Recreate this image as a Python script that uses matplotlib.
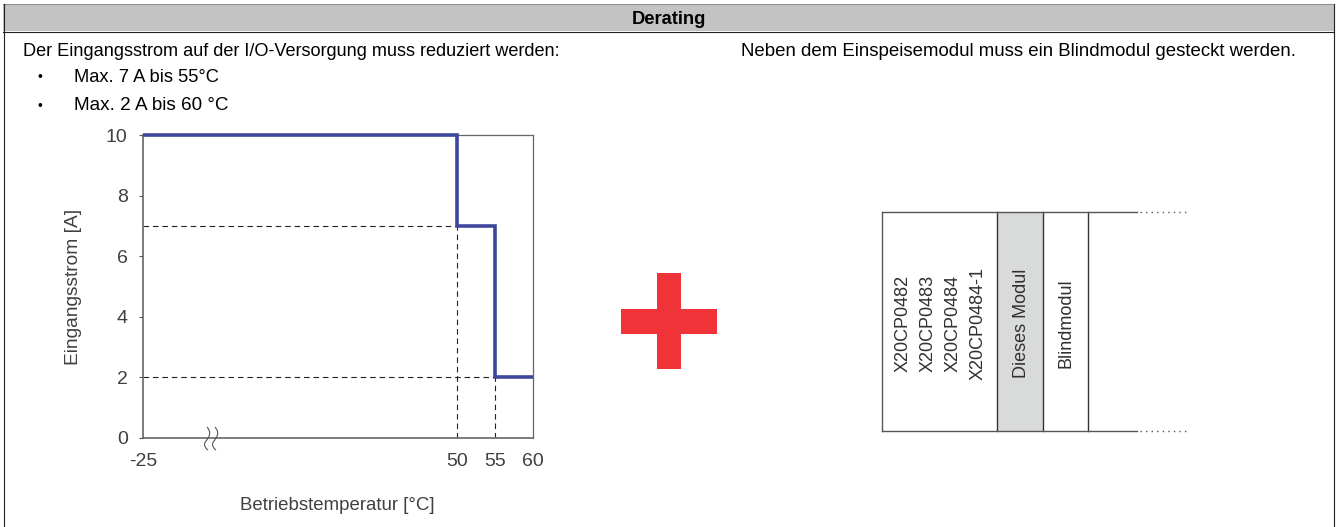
import numpy as np
import matplotlib
matplotlib.use("Agg")
import matplotlib.pyplot as plt
from matplotlib.patches import Rectangle, PathPatch
from matplotlib.path import Path

plt.rcParams["font.family"] = ["Liberation Sans", "DejaVu Sans"]

W, H = 1336, 527

# derating curve
temp_steps = [-25, 50, 50, 55, 55, 60]
current_steps = [10, 10, 7, 7, 2, 2]
temp_ticks = [-25, 50, 55, 60]
current_ticks = [0, 2, 4, 6, 8, 10]
guide_temps = [50, 55]
guide_currents = [7, 2]

title = "Derating"
left_text = "Der Eingangsstrom auf der I/O-Versorgung muss reduziert werden:"
right_text = "Neben dem Einspeisemodul muss ein Blindmodul gesteckt werden."
bullets = ["Max. 7 A bis 55°C", "Max. 2 A bis 60 °C"]
module_names = ["X20CP0482", "X20CP0483", "X20CP0484", "X20CP0484-1"]

fig = plt.figure(figsize=(W / 100, H / 100), dpi=100)

# overlay in pixel coordinates for the table and the drawings
bg = fig.add_axes([0, 0, 1, 1])
bg.set_xlim(0, W)
bg.set_ylim(H, 0)
bg.axis("off")

bg.add_patch(Rectangle((3, 4), 1331, 27, fc="#c3c3c3", ec="none"))
bg.plot([3, 1334], [4, 4], color="#909090", lw=0.8)
bg.plot([3, 1334], [31.5, 31.5], color="#202020", lw=0.8)
bg.plot([3.5, 3.5], [4, H], color="#202020", lw=0.8)
bg.plot([1334, 1334], [4, H], color="#202020", lw=0.8)

bg.text(668.5, 19.5, title, ha="center", va="center", fontsize=13.2, fontweight="bold", color="black")
bg.text(23, 51, left_text, va="center", fontsize=13.1, color="black")
bg.text(741, 51, right_text, va="center", fontsize=13.45, color="black")
for y, label, size in zip([77, 106], bullets, [13.2, 13.6]):
    bg.text(40, y, "•", ha="center", va="center", fontsize=10, color="black")
    bg.text(74, y, label, va="center", fontsize=size, color="black")

# red plus
bg.add_patch(Rectangle((657, 273), 24, 96, fc="#ef3338", ec="none"))
bg.add_patch(Rectangle((621, 309), 96, 25, fc="#ef3338", ec="none"))

# module drawing
bg.add_patch(Rectangle((997, 212), 46, 219, fc="#d9dada", ec="none"))
bg.plot([882, 882], [212, 431], color="#555555", lw=1)
for x in [997, 1043, 1088]:
    bg.plot([x, x], [212, 431], color="#333333", lw=1)
for y in [212, 431]:
    bg.plot([882, 1137], [y, y], color="#555555", lw=1)
    bg.plot([1140, 1188], [y, y], color="#555555", lw=1, ls=(0, (1, 3)))
for x, name in zip([903.5, 928.5, 953.5, 978.5], module_names):
    bg.text(x, 323, name, rotation=90, ha="center", va="center", fontsize=13, color="#303030")
bg.text(1022, 323, "Dieses Modul", rotation=90, ha="center", va="center", fontsize=13, color="#303030")
bg.text(1066, 323, "Blindmodul", rotation=90, ha="center", va="center", fontsize=13, color="#303030")

# chart
x0, x1, y_top, y_bot = 143, 533, 135, 438
ax = fig.add_axes([x0 / W, 1 - y_bot / H, (x1 - x0) / W, (y_bot - y_top) / H])
ax.patch.set_alpha(0)


def fwd(v):
    return np.interp(v, [-25, 50, 60], [0, 314, 390], left=None, right=None)


def inv(v):
    return np.interp(v, [0, 314, 390], [-25, 50, 60])


ax.set_xscale("function", functions=(fwd, inv))
ax.set_xlim(-25, 60)
ax.set_ylim(0, 10)

for t, c in zip(guide_temps, guide_currents):
    ax.plot([-25, t], [c, c], color="#222222", lw=0.8, ls=(0, (5, 3.5)), zorder=2)
    ax.plot([t, t], [0, c], color="#222222", lw=0.8, ls=(0, (5, 3.5)), zorder=2)

ax.plot(temp_steps, current_steps, color="#3f479c", lw=2.6, solid_joinstyle="miter",
        solid_capstyle="butt", clip_on=False, zorder=3)

ax.set_xticks(temp_ticks)
ax.set_xticklabels([str(t) for t in temp_ticks])
ax.set_yticks(current_ticks)
ax.xaxis.set_minor_locator(matplotlib.ticker.NullLocator())
ax.tick_params(axis="y", length=3, width=0.8, color="#555555", labelsize=14, labelcolor="#404040", pad=8)
ax.tick_params(axis="x", length=0, labelsize=14, labelcolor="#404040", pad=10.5)

for side in ["left", "bottom"]:
    ax.spines[side].set_color("#666666")
    ax.spines[side].set_linewidth(1.2)
for side in ["top", "right"]:
    ax.spines[side].set_color("#666666")
    ax.spines[side].set_linewidth(0.9)

bg.text(337, 505, "Betriebstemperatur [°C]", ha="center", va="center", fontsize=13.4, color="#404040")
bg.text(74, 287, "Eingangsstrom [A]", rotation=90, ha="center", va="center", fontsize=13.8, color="#404040")

# axis break mark
top = fig.add_axes([0, 0, 1, 1])
top.set_xlim(0, W)
top.set_ylim(H, 0)
top.axis("off")
for dx in [0, 8]:
    verts = [(207 + dx, 427), (212 + dx, 433), (209 + dx, 437), (206 + dx, 441),
             (203 + dx, 444), (205 + dx, 448), (208 + dx, 450)]
    codes = [Path.MOVETO, Path.CURVE4, Path.CURVE4, Path.CURVE4, Path.CURVE4, Path.CURVE4, Path.CURVE4]
    top.add_patch(PathPatch(Path(verts, codes), fc="none", ec="#555555", lw=0.8))

fig.savefig("out.png", dpi=100)
